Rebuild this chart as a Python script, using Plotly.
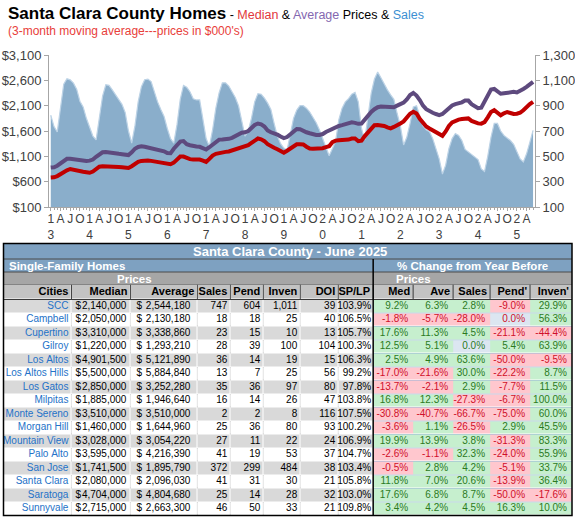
import plotly.graph_objects as go

W, H = 575, 519

# ---------------- chart data: 3-month moving averages, Jan 2013 .. Jun 2025 ----------------
start_year = 2013
sales_3mma = [
    825, 735, 693, 880, 1070, 1112, 1104, 1078, 1030, 935, 890, 800,
    730, 660, 630, 795, 975, 1065, 1060, 1025, 990, 955, 910, 845,
    700, 605, 740, 930, 1050, 1105, 1110, 1090, 1000, 930, 870, 815,
    720, 640, 605, 750, 950, 1060, 1045, 1010, 955, 945, 945, 800,
    640, 578, 710, 880, 1000, 1080, 1080, 1055, 1010, 965, 900, 790,
    660, 700, 800, 930, 995, 990, 960, 920, 870, 760, 660, 600,
    565, 550, 680, 800, 865, 900, 900, 880, 850, 810, 765, 710,
    640, 560, 505, 560, 620, 790, 880, 930, 955, 990, 1005, 930,
    720, 630, 800, 1000, 1110, 1165, 1120, 1070, 1025, 985, 950, 840,
    740, 590, 650, 760, 890, 900, 815, 740, 710, 695, 640, 560,
    480, 360, 430, 560, 640, 680, 665, 625, 555, 535, 515, 490,
    475, 400, 380, 500, 650, 760, 760, 700, 665, 645, 625, 595,
    540, 480, 455, 520, 610, 705,
]
median_3mma = [
    680, 685, 710, 755, 790, 825, 850, 835, 805, 795, 795, 785,
    775, 800, 850, 895, 905, 905, 900, 892, 890, 890, 885, 875,
    870, 905, 960, 990, 1010, 1022, 1018, 1010, 1000, 990, 980, 970,
    960, 945, 975, 1030, 1095, 1095, 1060, 1045, 1036, 1036, 1036, 1015,
    990, 1050, 1115, 1150, 1168, 1178, 1188, 1195, 1215, 1235, 1252, 1270,
    1290, 1320, 1365, 1420, 1452, 1435, 1400, 1340, 1295, 1270, 1240, 1200,
    1170, 1210, 1255, 1300, 1338, 1340, 1335, 1290, 1255, 1250, 1252, 1258,
    1260, 1280, 1300, 1380, 1410, 1418, 1420, 1420, 1430, 1450, 1452, 1400,
    1410, 1500, 1580, 1660, 1715, 1720, 1712, 1698, 1670, 1652, 1680, 1705,
    1750, 1790, 1870, 1940, 1980, 1945, 1840, 1760, 1690, 1650, 1615, 1585,
    1550, 1505, 1590, 1700, 1770, 1800, 1825, 1835, 1840, 1848, 1800, 1765,
    1750, 1745, 1775, 1870, 1975, 2010, 1960, 1910, 1950, 1975, 1955, 1935,
    1940, 1960, 2010, 2075, 2130, 2175,
]
average_3mma = [
    878, 885, 915, 955, 1010, 1050, 1050, 1038, 1030, 1023, 1018, 1010,
    1015, 1036, 1090, 1145, 1180, 1185, 1172, 1165, 1158, 1150, 1143, 1135,
    1125, 1180, 1250, 1285, 1300, 1290, 1275, 1265, 1255, 1245, 1235, 1200,
    1165, 1160, 1250, 1330, 1390, 1400, 1340, 1320, 1302, 1295, 1288, 1260,
    1235, 1280, 1335, 1390, 1430, 1432, 1432, 1445, 1465, 1500, 1545, 1565,
    1575, 1600, 1660, 1720, 1748, 1730, 1690, 1610, 1575, 1560, 1530, 1490,
    1460, 1480, 1530, 1590, 1640, 1635, 1600, 1575, 1555, 1535, 1520, 1522,
    1540, 1580, 1615, 1650, 1668, 1700, 1715, 1740, 1750, 1770, 1760, 1742,
    1745, 1830, 1910, 1975, 2030, 2070, 2085, 2078, 2065, 2060, 2070, 2100,
    2125, 2160, 2225, 2310, 2350, 2300, 2210, 2100, 2030, 1985, 1960, 1935,
    1915, 1935, 1990, 2050, 2105, 2130, 2145, 2165, 2200, 2200, 2130, 2085,
    2050, 2060, 2180, 2320, 2420, 2430, 2370, 2335, 2345, 2355, 2370, 2372,
    2360, 2385, 2430, 2470, 2520, 2570,
]
price_ticks = [100, 600, 1100, 1600, 2100, 2600, 3100]
sales_ticks = [100, 300, 500, 700, 900, 1100, 1300]
quarter_letters = ["A", "J", "O"]

# ---------------- table data ----------------
table_title = "Santa Clara County - June 2025"
col_names = ["Cities", "Median", "Average", "Sales", "Pend", "Inven", "DOI", "SP/LP",
             "Med", "Ave", "Sales", "Pend'", "Inven'"]
cities = ["SCC", "Campbell", "Cupertino", "Gilroy", "Los Altos", "Los Altos Hills", "Los Gatos",
          "Milpitas", "Monte Sereno", "Morgan Hill", "Mountain View", "Palo Alto", "San Jose",
          "Santa Clara", "Saratoga", "Sunnyvale"]
median = [2140000, 2050000, 3310000, 1220000, 4901500, 5500000, 2850000, 1885000, 3510000,
          1460000, 3028000, 3595000, 1741500, 2080000, 4704000, 2715000]
average = [2544180, 2130180, 3338860, 1293210, 5121890, 5884840, 3252280, 1946640, 3510000,
           1644960, 3054220, 4216390, 1895790, 2096030, 4804680, 2663300]
sales = [747, 18, 23, 28, 36, 13, 35, 16, 2, 25, 27, 41, 372, 41, 25, 46]
pend = [604, 18, 15, 39, 14, 7, 36, 14, 2, 36, 11, 19, 299, 31, 14, 50]
inven = [1011, 25, 10, 100, 19, 25, 97, 26, 8, 80, 22, 53, 484, 30, 28, 33]
doi = [39, 40, 13, 104, 15, 56, 80, 47, 116, 93, 24, 37, 38, 21, 32, 21]
splp = [103.9, 106.5, 105.7, 100.3, 106.3, 99.2, 97.8, 103.8, 107.5, 100.2, 106.9, 104.7,
        103.4, 105.8, 103.0, 109.8]
chg_med = [9.2, -1.8, 17.6, 12.5, 2.5, -17.0, -13.7, 16.8, -30.8, -3.6, 19.9, -2.6, -0.5, 11.8, 17.6, 3.4]
chg_ave = [6.3, -5.7, 11.3, 5.1, 4.9, -21.6, -2.1, 12.3, -40.7, 1.1, 13.9, -1.1, 2.8, 7.0, 6.8, 4.2]
chg_sales = [2.8, -28.0, 4.5, 0.0, 63.6, 30.0, 2.9, -27.3, -66.7, -26.5, 3.8, 32.3, 4.2, 20.6, 8.7, 4.5]
chg_pend = [-9.0, 0.0, -21.1, 5.4, -50.0, -22.2, -7.7, -6.7, -75.0, 2.9, -31.3, -24.0, -5.1, -13.9, -50.0, 16.3]
chg_inven = [29.9, 56.3, -44.4, 63.9, -9.5, 8.7, 11.5, 100.0, 60.0, 45.5, 83.3, 55.9, 33.7, 36.4, -17.6, 10.0]

# ---------------- helpers ----------------
def px(x):
    return x / W

def py(y):
    return 1 - y / H

FONT = "Liberation Sans, Arial, sans-serif"
axis_gray = "#A6A6A6"

months = list(range(len(sales_3mma)))
tickvals, ticktext = [], []
for i in range(0, len(months), 3):
    yr = start_year + i // 12
    q = (i % 12) // 3
    tickvals.append(i)
    ticktext.append(f"{(yr // 10) % 10}<br>{yr % 10}" if q == 0 else quarter_letters[q - 1])

fig = go.Figure()

# sales area on the base axis (drawn beneath), price lines on the overlay axis
fig.add_trace(go.Scatter(
    x=months, y=sales_3mma, mode="lines", fill="tozeroy",
    line=dict(color="#BDD3E6", width=1.2), fillcolor="#8AAECB",
    xaxis="x", yaxis="y", hoverinfo="skip", showlegend=False))
fig.add_trace(go.Scatter(
    x=months, y=average_3mma, mode="lines", line=dict(color="#5E4A7E", width=4),
    xaxis="x", yaxis="y2", showlegend=False))
fig.add_trace(go.Scatter(
    x=months, y=median_3mma, mode="lines", line=dict(color="#C00000", width=4),
    xaxis="x", yaxis="y2", showlegend=False))

# ---------------- table (heatmap cells + text on its own axes) ----------------
col_widths = [68, 59, 67, 33, 33, 37, 38, 35, 40, 40, 37, 40, 42]
N_LEFT = 8
HDR_H, ROW_H = 15, 13.5
n = len(cities)
x_edges = [0]
for w_ in col_widths:
    x_edges.append(x_edges[-1] + w_)
y_edges = [0, HDR_H] + [HDR_H + ROW_H * (i + 1) for i in range(n)]
TOT_W, TOT_H = x_edges[-1], y_edges[-1]
TAB_L, TAB_R = 3.5, 572
HDR_TOP = 284.5
TAB_BOT = HDR_TOP + TOT_H

# colour codes: 0 white, 1 grey row, 2 header grey, 3 green, 4 red, 5 zero
code_colors = ["#FFFFFF", "#D9D9D9", "#C3C3C3", "#C6EFCE", "#FFC7CE", "#DCE6F1"]
GREEN_T, RED_T = "#2B7A1E", "#D0102A"

pct_cols = [chg_med, chg_ave, chg_sales, chg_pend, chg_inven]
zero_text = [RED_T, RED_T, GREEN_T, RED_T, RED_T]

z_left = [[2] * N_LEFT] + [[1 if i % 2 == 0 else 0] * N_LEFT for i in range(n)]
z_right = [[2] * len(pct_cols)]
for i in range(n):
    z_right.append([3 if vals[i] > 0 else (4 if vals[i] < 0 else 5) for vals in pct_cols])

cscale = [[k / (len(code_colors) - 1), c] for k, c in enumerate(code_colors)]
for xe, zz, gap in [(x_edges[:N_LEFT + 1], z_left, 1), (x_edges[N_LEFT:], z_right, 0)]:
    fig.add_trace(go.Heatmap(
        x=xe, y=y_edges, z=zz, zmin=0, zmax=len(code_colors) - 1, colorscale=cscale,
        showscale=False, xgap=gap, ygap=1, xaxis="x3", yaxis="y3", hoverinfo="skip"))

nb = "\u00a0"
right_vals = [
    [c.replace(" ", nb) for c in cities],
    [f"{v:,}" for v in median],
    [f"{v:,}" for v in average],
    [f"{v:,}" for v in sales],
    [f"{v:,}" for v in pend],
    [f"{v:,}" for v in inven],
    [f"{v:,}" for v in doi],
    [f"{v:.1f}%" for v in splp],
] + [[f"{v:.1f}%" for v in vals] for vals in pct_cols]
pads = [3, 4, 7, 3, 3, 3, 3, 2, 5, 5, 5, 5, 5]

tx, ty, tt, tc = [], [], [], []
for j, col in enumerate(right_vals):
    for i, s in enumerate(col):
        tx.append(x_edges[j + 1] - pads[j])
        ty.append(HDR_H + ROW_H * i + ROW_H / 2)
        tt.append(s)
        if j == 0:
            tc.append("#2472C8")
        elif j < N_LEFT:
            tc.append("#000000")
        else:
            v = pct_cols[j - N_LEFT][i]
            tc.append(GREEN_T if v > 0 else (RED_T if v < 0 else zero_text[j - N_LEFT]))
fig.add_trace(go.Scatter(
    x=tx, y=ty, text=tt, mode="text", textposition="middle left",
    textfont=dict(family=FONT, size=10, color=tc), cliponaxis=False,
    xaxis="x3", yaxis="y3", hoverinfo="skip", showlegend=False))

# dollar signs (left aligned in Median / Average)
dx, dy = [], []
for j, off in [(1, 4), (2, 6)]:
    for i in range(n):
        dx.append(x_edges[j] + off)
        dy.append(HDR_H + ROW_H * i + ROW_H / 2)
fig.add_trace(go.Scatter(
    x=dx, y=dy, text=["$"] * len(dx), mode="text", textposition="middle right",
    textfont=dict(family=FONT, size=10, color="#000000"), cliponaxis=False,
    xaxis="x3", yaxis="y3", hoverinfo="skip", showlegend=False))

# column headers
fig.add_trace(go.Scatter(
    x=[x_edges[j + 1] - 3 for j in range(len(col_names))],
    y=[HDR_H / 2] * len(col_names),
    text=[f"<b>{c}</b>" for c in col_names], mode="text", textposition="middle left",
    textfont=dict(family=FONT, size=11, color="#000000"), cliponaxis=False,
    xaxis="x3", yaxis="y3", hoverinfo="skip", showlegend=False))

# ---------------- layout ----------------
fig.update_layout(
    template="none",
    width=W, height=H, margin=dict(l=0, r=0, t=0, b=0, autoexpand=False),
    paper_bgcolor="white", plot_bgcolor="white", showlegend=False,
    xaxis=dict(domain=[px(49), px(535)], range=[-0.55, 149.6], anchor="y", automargin=False,
               tickmode="array", tickvals=tickvals, ticktext=ticktext, tickangle=0,
               ticklabelstandoff=-2,
               tickfont=dict(family=FONT, size=12, color="#404040"),
               showgrid=False, zeroline=False, showline=True, linecolor=axis_gray,
               ticks="outside", ticklen=3, tickcolor=axis_gray,
               minor=dict(tickmode="linear", tick0=0, dtick=1, ticks="outside",
                          ticklen=2, tickcolor=axis_gray, showgrid=False)),
    yaxis=dict(domain=[py(207), py(55)], range=[100, 1300], side="right", anchor="x",
               automargin=False, tickmode="array", tickvals=sales_ticks,
               ticktext=[f"{v:,}" for v in sales_ticks],
               tickfont=dict(family=FONT, size=13, color="#404040"),
               showgrid=False, zeroline=False, showline=True, linecolor=axis_gray,
               ticks="outside", ticklen=4, tickcolor=axis_gray),
    yaxis2=dict(range=[100, 3100], side="left", overlaying="y", anchor="x",
                automargin=False, tickmode="array", tickvals=price_ticks,
                ticktext=[f"${v:,}" for v in price_ticks],
                tickfont=dict(family=FONT, size=13, color="#404040"),
                showgrid=False, zeroline=False, showline=True, linecolor=axis_gray,
                ticks="outside", ticklen=4, tickcolor=axis_gray),
    xaxis3=dict(domain=[px(TAB_L), px(TAB_R)], range=[0, TOT_W], anchor="y3",
                visible=False, automargin=False, fixedrange=True),
    yaxis3=dict(domain=[py(TAB_BOT), py(HDR_TOP)], range=[TOT_H, 0], anchor="x3",
                visible=False, automargin=False, fixedrange=True),
)

# titles
fig.add_annotation(
    xref="paper", yref="paper", x=px(6), y=py(13), xanchor="left", yanchor="middle",
    showarrow=False, align="left",
    text=("<b>Santa Clara County Homes</b>"
          "<span style='font-size:12.5px'> - <span style='color:#E2373C'>Median</span> &amp; "
          "<span style='color:#8468B0'>Average</span> Prices &amp; "
          "<span style='color:#3C8FD2'>Sales</span></span>"),
    font=dict(family=FONT, size=17, color="#000000"))
fig.add_annotation(
    xref="paper", yref="paper", x=px(6), y=py(31), xanchor="left", yanchor="middle",
    showarrow=False, text="(3-month moving average---prices in $000's)",
    font=dict(family=FONT, size=12, color="#E8403A"))

# table frame, header bands and grid lines
BLUE = "#7EA1C1"
GRAY = "#A6A6A6"
shapes = [
    dict(type="rect", xref="paper", yref="paper", x0=px(TAB_L), x1=px(TAB_R),
         y0=py(259), y1=py(243.5), fillcolor=BLUE, line=dict(width=0), layer="below"),
    dict(type="rect", xref="paper", yref="paper", x0=px(TAB_L), x1=px(TAB_R),
         y0=py(272), y1=py(259), fillcolor=BLUE, line=dict(width=0), layer="below"),
    dict(type="rect", xref="paper", yref="paper", x0=px(TAB_L), x1=px(TAB_R),
         y0=py(HDR_TOP), y1=py(272), fillcolor=GRAY, line=dict(width=0), layer="below"),
]
for yy in (259, 272):
    shapes.append(dict(type="line", xref="paper", yref="paper", x0=px(TAB_L), x1=px(TAB_R),
                       y0=py(yy), y1=py(yy), line=dict(color="#4A4A4A", width=1)))
# light grey column separators in the white rows (seen through the cell gaps)
for i in range(1, n, 2):
    for xe in x_edges[1:N_LEFT]:
        shapes.append(dict(type="line", xref="x3", yref="y3", x0=xe, x1=xe,
                           y0=y_edges[i + 1], y1=y_edges[i + 2],
                           line=dict(color="#C8C8C8", width=1), layer="below"))
# light blue row separators in the % change block
for ye in y_edges[1:]:
    shapes.append(dict(type="line", xref="x3", yref="y3", x0=x_edges[N_LEFT], x1=TOT_W,
                       y0=ye, y1=ye, line=dict(color="#95B3D7", width=1), layer="below"))
# header cell borders
for xe in x_edges[1:-1]:
    shapes.append(dict(type="line", xref="x3", yref="y3", x0=xe, x1=xe, y0=0, y1=HDR_H,
                       line=dict(color="#3A3A3A", width=1)))
for ye in (0, HDR_H):
    shapes.append(dict(type="line", xref="x3", yref="y3", x0=0, x1=TOT_W, y0=ye, y1=ye,
                       line=dict(color="#3A3A3A", width=1)))
shapes.append(dict(type="line", xref="x3", yref="paper", x0=x_edges[N_LEFT], x1=x_edges[N_LEFT],
                   y0=py(TAB_BOT), y1=py(259), line=dict(color="#000000", width=1.5)))
shapes.append(dict(type="rect", xref="paper", yref="paper", x0=px(TAB_L), x1=px(TAB_R),
                   y0=py(TAB_BOT), y1=py(243.5), line=dict(color="#000000", width=1.5)))
fig.update_layout(shapes=shapes)

split_px = TAB_L + x_edges[N_LEFT] * (TAB_R - TAB_L) / TOT_W
right_mid = (split_px + TAB_R) / 2
hdr_font = dict(family=FONT, color="white")
fig.add_annotation(xref="paper", yref="paper", x=px(290), y=py(251.5), showarrow=False,
                   xanchor="center", yanchor="middle", text=f"<b>{table_title}</b>",
                   font=dict(size=13, **hdr_font))
fig.add_annotation(xref="paper", yref="paper", x=px(7), y=py(266), showarrow=False,
                   xanchor="left", yanchor="middle", text="<b>Single-Family Homes</b>",
                   font=dict(size=11.5, **hdr_font))
fig.add_annotation(xref="paper", yref="paper", x=px(right_mid), y=py(266), showarrow=False,
                   xanchor="center", yanchor="middle", text="<b>% Change from Year Before</b>",
                   font=dict(size=11.5, **hdr_font))
fig.add_annotation(xref="x3", yref="paper", x=(x_edges[1] + x_edges[3]) / 2, y=py(278.5),
                   showarrow=False, xanchor="center", yanchor="middle", text="<b>Prices</b>",
                   font=dict(size=11.5, **hdr_font))
fig.add_annotation(xref="x3", yref="paper", x=(x_edges[8] + x_edges[10]) / 2, y=py(278.5),
                   showarrow=False, xanchor="center", yanchor="middle", text="<b>Prices</b>",
                   font=dict(size=11.5, **hdr_font))

# the page's default body margin would offset the 575x519 figure; remove it
fig.write_html("out.html", config={"displayModeBar": False},
               post_script="document.body.style.margin='0';document.body.style.padding='0';")
